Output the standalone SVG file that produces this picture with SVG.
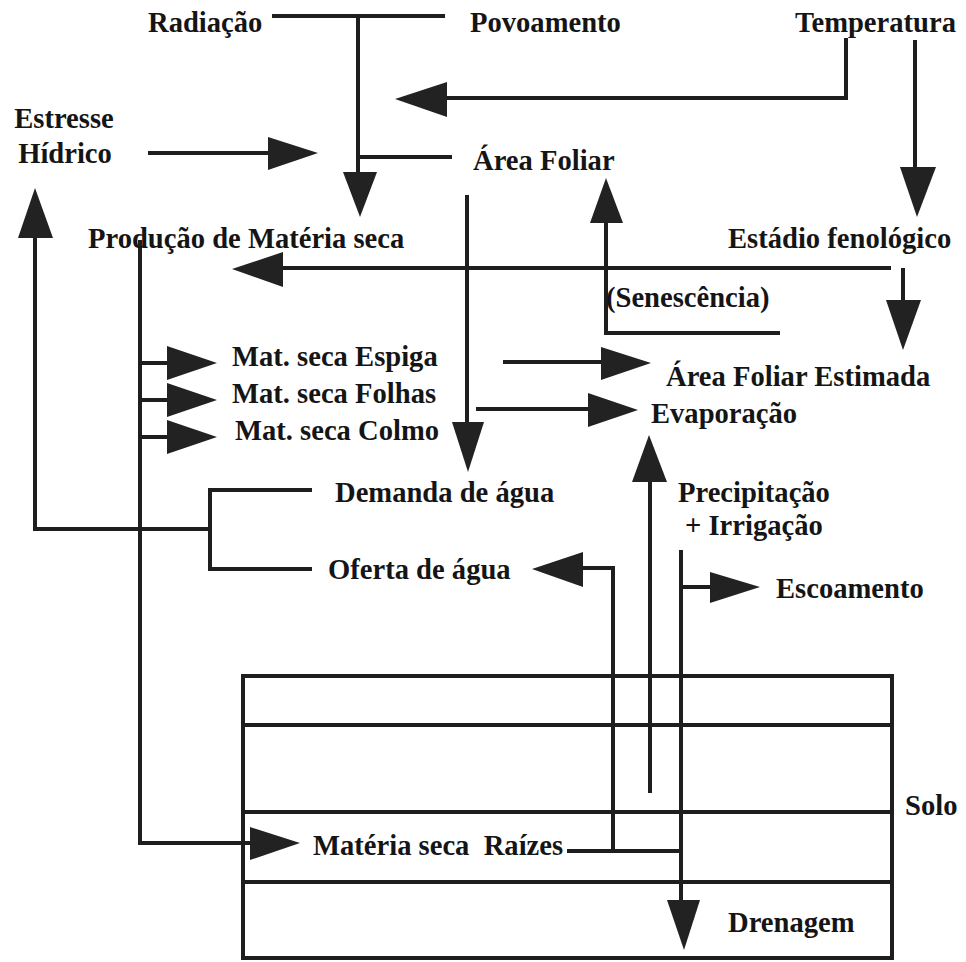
<svg xmlns="http://www.w3.org/2000/svg" width="966" height="962" viewBox="0 0 966 962">
<style>
  .t { font-family: "Liberation Serif", "Times New Roman", serif; font-weight: bold; font-size: 28.6px; fill: #151515; }
  .ln { stroke: #1e1e1e; stroke-width: 4; fill: none; stroke-linecap: butt; stroke-linejoin: miter; }
  .ah { fill: #222; stroke: none; }
</style>
<rect width="966" height="962" fill="#ffffff"/>

<g id="connectors">
  <!-- Radiação / Povoamento to Produção -->
  <polyline class="ln" points="272,16 445,16"/>
  <polyline class="ln" points="358,16 358,175"/>
  <polyline class="ln" points="358,157 452,157"/>
  <polygon class="ah" points="343,172 377,172 360,217"/>
  <!-- Temperatura to Área Foliar -->
  <polyline class="ln" points="846,38 846,98 445,98"/>
  <polygon class="ah" points="447,82 447,117 395,99"/>
  <!-- Temperatura to Estádio -->
  <polyline class="ln" points="915,40 915,170"/>
  <polygon class="ah" points="900,167 936,167 917,217"/>
  <!-- Estresse Hídrico -->
  <polyline class="ln" points="148,153 270,153"/>
  <polygon class="ah" points="268,137 268,170 318,153"/>
  <!-- Feedback to Estresse -->
  <polyline class="ln" points="35,236 35,529 210,529"/>
  <polygon class="ah" points="18,238 53,238 35,188"/>
  <!-- Demanda / Oferta bracket -->
  <polyline class="ln" points="312,490 210,490 210,569 312,569"/>
  <!-- Produção trunk -->
  <polyline class="ln" points="140,240 140,843 252,843"/>
  <polygon class="ah" points="250,827 250,860 300,843"/>
  <polyline class="ln" points="140,363 170,363"/>
  <polygon class="ah" points="167,346 167,380 217,363"/>
  <polyline class="ln" points="140,400 170,400"/>
  <polygon class="ah" points="167,383 167,417 217,400"/>
  <polyline class="ln" points="140,437 170,437"/>
  <polygon class="ah" points="167,420 167,454 217,437"/>
  <!-- Estádio to Produção -->
  <polyline class="ln" points="891,268 281,268"/>
  <polygon class="ah" points="283,252 283,287 232,269"/>
  <!-- Estádio to Área Foliar Estimada -->
  <polyline class="ln" points="903,268 903,302"/>
  <polygon class="ah" points="886,300 921,300 903,350"/>
  <!-- Senescência -->
  <polyline class="ln" points="780,333 606,333 606,221"/>
  <polygon class="ah" points="590,223 623,223 606,178"/>
  <!-- Área Foliar down to Demanda -->
  <polyline class="ln" points="467,195 467,425"/>
  <polygon class="ah" points="452,422 484,422 468,472"/>
  <!-- to Área Foliar Estimada -->
  <polyline class="ln" points="503,362 603,362"/>
  <polygon class="ah" points="601,347 601,380 651,363"/>
  <!-- to Evaporação -->
  <polyline class="ln" points="476,409 590,409"/>
  <polygon class="ah" points="588,393 588,427 638,410"/>
  <!-- Soil evaporation up -->
  <polyline class="ln" points="650,480 650,793"/>
  <polygon class="ah" points="632,482 667,482 649,435"/>
  <!-- Oferta de água -->
  <polyline class="ln" points="567,851 681,851"/>
  <polyline class="ln" points="613,850 613,568 581,568"/>
  <polygon class="ah" points="583,552 583,587 532,569"/>
  <!-- Precipitação down to Drenagem -->
  <polyline class="ln" points="681,550 681,903"/>
  <polygon class="ah" points="667,900 700,900 684,950"/>
  <!-- Escoamento -->
  <polyline class="ln" points="681,587 712,587"/>
  <polygon class="ah" points="710,572 710,603 760,587"/>
</g>

<g id="solo-box">
  <rect class="ln" x="243" y="676" width="649" height="282"/>
  <line class="ln" x1="243" y1="725" x2="890" y2="725"/>
  <line class="ln" x1="243" y1="812" x2="892" y2="812"/>
  <line class="ln" x1="243" y1="882" x2="892" y2="882"/>
</g>

<g id="radiacao"><text class="t" x="148" y="32">Radiação</text></g>
<g id="povoamento"><text class="t" x="470" y="32">Povoamento</text></g>
<g id="temperatura"><text class="t" x="795" y="32">Temperatura</text></g>
<g id="estresse"><text class="t" x="64" y="128" text-anchor="middle">Estresse</text><text class="t" x="65" y="163" text-anchor="middle">Hídrico</text></g>
<g id="area-foliar"><text class="t" x="473" y="170">Área Foliar</text></g>
<g id="producao"><text class="t" x="88" y="248">Produção de Matéria seca</text></g>
<g id="estadio"><text class="t" x="728" y="248">Estádio fenológico</text></g>
<g id="senescencia"><text class="t" x="606" y="307">(Senescência)</text></g>
<g id="espiga"><text class="t" x="232" y="366">Mat. seca Espiga</text></g>
<g id="folhas"><text class="t" x="232" y="403">Mat. seca Folhas</text></g>
<g id="colmo"><text class="t" x="235" y="440">Mat. seca Colmo</text></g>
<g id="area-foliar-estimada"><text class="t" x="666" y="386">Área Foliar Estimada</text></g>
<g id="evaporacao"><text class="t" x="651" y="423">Evaporação</text></g>
<g id="demanda"><text class="t" x="335" y="502">Demanda de água</text></g>
<g id="precipitacao"><text class="t" x="678" y="502">Precipitação</text><text class="t" x="685" y="535">+ Irrigação</text></g>
<g id="oferta"><text class="t" x="328" y="579">Oferta de água</text></g>
<g id="escoamento"><text class="t" x="776" y="598">Escoamento</text></g>
<g id="solo"><text class="t" x="905" y="815">Solo</text></g>
<g id="raizes"><text class="t" x="313" y="855" xml:space="preserve">Matéria seca  Raízes</text></g>
<g id="drenagem"><text class="t" x="728" y="932">Drenagem</text></g>
</svg>
